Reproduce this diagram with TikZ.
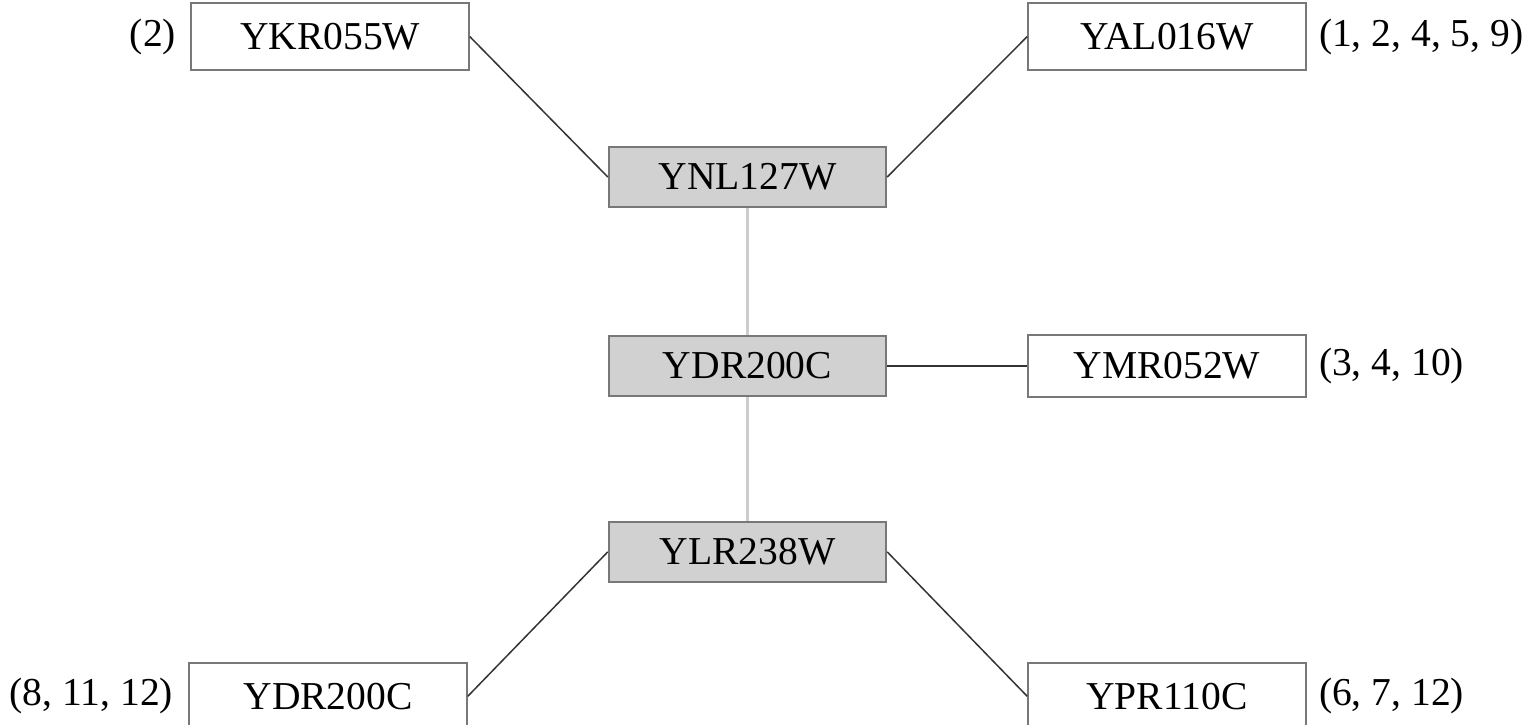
\documentclass[tikz,border=0pt]{standalone}
\usepackage{fontspec}
\setmainfont{Liberation Serif}
\usepackage{tikz}
\usetikzlibrary{positioning}
\definecolor{bordegris}{rgb}{0.47, 0.47, 0.47}
\definecolor{rellenogris}{rgb}{0.82, 0.82, 0.82}
\definecolor{lineaclara}{rgb}{0.80, 0.80, 0.80}
\definecolor{lineaoscura}{rgb}{0.20, 0.20, 0.20}
\tikzset{
  gen/.style={
    draw=bordegris,
    line width=1.1pt,
    fill=white,
    align=center,
    minimum width=5.55cm,
    minimum height=1.34cm,
    inner sep=0pt,
    font=\fontsize{22.5}{27}\selectfont
  },
  nucleo/.style={
    gen,
    fill=rellenogris,
    minimum height=1.2cm
  },
  cuenta/.style={
    inner sep=0pt,
    font=\fontsize{22.5}{27}\selectfont
  },
  enlace/.style={
    line width=0.85pt,
    lineaoscura
  },
  enlaceclaro/.style={
    line width=1.5pt,
    lineaclara
  }
}
\begin{document}
\begin{tikzpicture}[node distance=2.5cm and 2.8cm]
\useasboundingbox (0,0) rectangle (30.64,-14.5);

\node[nucleo] (ynl) at (14.95,-3.54) {YNL127W};
\node[nucleo, below=2.54cm of ynl] (ydra) {YDR200C};
\node[nucleo, below=2.48cm of ydra] (ylr) {YLR238W};

\node[gen, above left=1.5cm and 2.76cm of ynl] (ykr) {YKR055W};
\node[gen, above right=1.5cm and 2.8cm of ynl] (yal) {YAL016W};
\node[gen, right=2.8cm of ydra, minimum height=1.24cm] (ymr) {YMR052W};
\node[gen, below left=1.58cm and 2.8cm of ylr] (ydrb) {YDR200C};
\node[gen, below right=1.58cm and 2.8cm of ylr] (ypr) {YPR110C};

\node[cuenta, left=0.28cm of ykr] (cykr) {(2)};
\node[cuenta, right=0.24cm of yal] (cyal) {(1, 2, 4, 5, 9)};
\node[cuenta, right=0.24cm of ymr] (cymr) {(3, 4, 10)};
\node[cuenta, left=0.3cm of ydrb] (cydrb) {(8, 11, 12)};
\node[cuenta, right=0.24cm of ypr] (cypr) {(6, 7, 12)};

\draw[enlace] (ykr.east) -- (ynl.west);
\draw[enlace] (yal.west) -- (ynl.east);
\draw[enlaceclaro] (ynl) -- (ydra);
\draw[enlace] (ydra) -- (ymr);
\draw[enlaceclaro] (ydra) -- (ylr);
\draw[enlace] (ylr.west) -- (ydrb.east);
\draw[enlace] (ylr.east) -- (ypr.west);
\end{tikzpicture}
\end{document}
